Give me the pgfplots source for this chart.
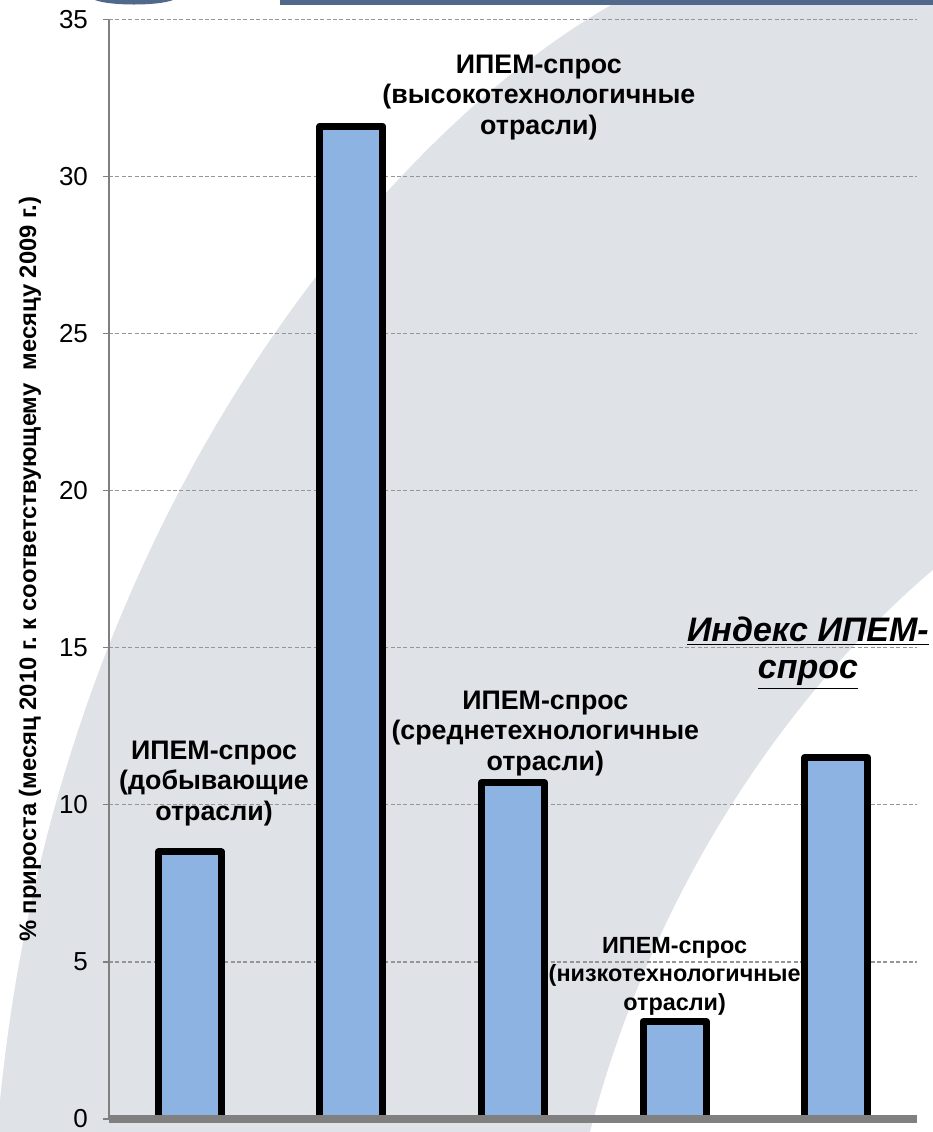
\documentclass[border=0pt]{standalone}
\usepackage{pgfplots}
\pgfplotsset{compat=1.18}
\usepackage{fontspec}
\setmainfont{Liberation Sans}
\frenchspacing
\definecolor{bggray}{RGB}{223,226,231}
\definecolor{barblue}{RGB}{141,179,226}
\definecolor{hdrblue}{RGB}{80,104,138}
\definecolor{gridgray}{RGB}{150,150,150}
\definecolor{axgray}{RGB}{128,128,128}
\begin{document}
\begin{tikzpicture}
\path[use as bounding box] (0,0) rectangle (466.5pt,-566pt);
% background watermark, in pixel units of the reference
\begin{scope}[x=0.5pt,y=-0.5pt]
  \fill[bggray] (0,0) rectangle (933,1132);
  \fill[white] (0,0) -- (620,0) .. controls (400,120) and (60,500) .. (0,1100) -- cycle;
  \fill[white] (590,1132) .. controls (650,900) and (780,700) .. (933,570) -- (933,1132) -- cycle;
  \fill[hdrblue] (280,0) rectangle (933,5);
  \fill[hdrblue] (95,0) .. controls (110,6) and (158,6) .. (173,0) -- cycle;
\end{scope}
\begin{axis}[
  at={(54.5pt,-559.5pt)}, anchor=south west,
  scale only axis, width=404pt, height=549.75pt,
  xmin=-0.5, xmax=4.5, ymin=0, ymax=35,
  axis x line=none, axis y line*=left,
  y axis line style={axgray, line width=0.75pt},
  xtick=\empty,
  ytick={0,5,...,35},
  tick align=outside, major tick length=3pt,
  ytick style={axgray, line width=0.6pt},
  yticklabel style={font=\fontsize{13}{15}\selectfont, xshift=-4pt},
  /pgf/number format/assume math mode=true,
  ymajorgrids=true,
  major grid style={gridgray, line width=0.6pt, dash pattern=on 2pt off 1.2pt},
  ylabel={\textbf{\% прироста (месяц 2010 г. к соответствующему\ \ месяцу 2009 г.)}},
  every axis y label/.style={at={(rel axis cs:0,0.5)}, xshift=-39.5pt, rotate=90,
    anchor=center, font=\fontsize{11.9}{14}\selectfont},
  clip=false,
]
\addplot[ybar, bar width=0.39, fill=barblue, draw=black, line width=3.5pt, line join=round]
  coordinates {(0,8.5)(1,31.6)(2,10.7)(3,3.1)(4,11.5)};
\draw[axgray, line width=4pt] (rel axis cs:0,0) -- (rel axis cs:1,0);
\node[align=center, font=\fontsize{13.4}{15.3}\selectfont\bfseries] at (axis cs:0.15,10.69)
  {ИПЕМ-спрос\\(добывающие\\отрасли)};
\node[align=center, font=\fontsize{13.4}{15.3}\selectfont\bfseries] at (axis cs:2.16,32.52)
  {ИПЕМ-спрос\\(высокотехнологичные\\отрасли)};
\node[align=center, font=\fontsize{13.4}{15.3}\selectfont\bfseries] at (axis cs:2.20,12.28)
  {ИПЕМ-спрос\\(среднетехнологичные\\отрасли)};
\node[align=center, font=\fontsize{11.7}{14.2}\selectfont\bfseries] at (axis cs:3.0,4.55)
  {ИПЕМ-спрос\\(низкотехнологичные\\отрасли)};
\node[align=center, font=\fontsize{17}{18.5}\selectfont\bfseries\itshape] at (axis cs:3.825,14.84)
  {\underline{Индекс ИПЕМ-}\\\underline{спрос}};
\end{axis}
\end{tikzpicture}
\end{document}
